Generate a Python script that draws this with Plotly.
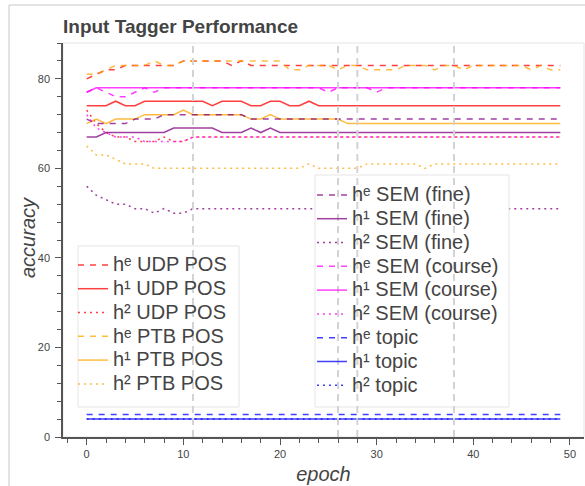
import plotly.graph_objects as go

epochs = list(range(50))

# hᵉ / h¹ / h² series, one list per line
he_udp = [80, 81, 82, 82, 83, 83, 83, 83, 83, 83, 84, 84, 84, 84, 84, 83, 84] + [83] * 33
h1_udp = [74, 74, 74, 75, 74, 74, 75, 75, 75, 75, 75, 75, 75, 74, 75, 75, 75, 74, 74, 75,
          75, 74, 74, 75] + [74] * 26
h2_udp = [73, 70, 68, 67, 67, 66, 66, 66, 67, 66, 66] + [67] * 39

he_ptb = [81, 81, 82, 83, 83, 83, 83, 84, 83, 83, 84, 84, 84, 84, 84, 84, 84, 84, 84, 84,
          84, 82, 82, 83, 83, 83, 82, 83, 83, 82, 82, 82, 82, 83, 83, 83, 82, 83, 83, 82,
          83, 83, 83, 83, 83, 83, 82, 83, 82, 82]
h1_ptb = [70, 71, 70, 71, 71, 71, 72, 72, 72, 72, 73, 72, 72, 72, 72, 72, 72, 71, 71, 72,
          71, 71, 71, 71, 71, 71, 71] + [70] * 23
h2_ptb = [65, 63, 63, 62, 61, 61, 61] + [60] * 16 + [61, 60, 60, 60, 60, 60, 61, 61, 61,
          61, 61, 61, 60] + [61] * 14

he_sem_fine = [71, 70, 70, 70, 70, 71, 71, 71, 72, 72, 72, 72, 72, 72, 72, 72, 72] + [71] * 33
h1_sem_fine = [67, 67, 68, 68, 68, 68, 68, 68, 68, 69, 69, 69, 69, 69, 68, 68, 68, 69, 68,
               69] + [68] * 30
h2_sem_fine = [56, 54, 53, 52, 52, 51, 51, 50, 51, 50, 50] + [51] * 39

he_sem_course = [77, 78, 77, 76, 76, 77, 78, 77, 78, 78, 78, 78, 78, 78, 78, 78, 78, 78, 78,
                 78, 78, 78, 78, 78, 78, 77, 78, 78, 78, 78, 77] + [78] * 19
h1_sem_course = [77] + [78] * 49
h2_sem_course = [72, 69, 68, 67, 67, 67, 66, 66, 66, 66, 66] + [67] * 39

he_topic = [5] * 50
h1_topic = [4] * 50
h2_topic = [4] * 50

series = [
    ("hᵉ UDP POS", he_udp, "red", "dash", "legend"),
    ("h¹ UDP POS", h1_udp, "red", "solid", "legend"),
    ("h² UDP POS", h2_udp, "red", "dot", "legend"),
    ("hᵉ PTB POS", he_ptb, "orange", "dash", "legend"),
    ("h¹ PTB POS", h1_ptb, "orange", "solid", "legend"),
    ("h² PTB POS", h2_ptb, "orange", "dot", "legend"),
    ("hᵉ SEM (fine)", he_sem_fine, "purple", "dash", "legend2"),
    ("h¹ SEM (fine)", h1_sem_fine, "purple", "solid", "legend2"),
    ("h² SEM (fine)", h2_sem_fine, "purple", "dot", "legend2"),
    ("hᵉ SEM (course)", he_sem_course, "magenta", "dash", "legend2"),
    ("h¹ SEM (course)", h1_sem_course, "magenta", "solid", "legend2"),
    ("h² SEM (course)", h2_sem_course, "magenta", "dot", "legend2"),
    ("hᵉ topic", he_topic, "blue", "dash", "legend2"),
    ("h¹ topic", h1_topic, "blue", "solid", "legend2"),
    ("h² topic", h2_topic, "blue", "dot", "legend2"),
]

spans = [11, 26, 28, 38]

DASH = {"dash": "6px,6px", "solid": "solid", "dot": "2px,4px"}
FONT = "Helvetica, 'Liberation Sans', Arial, sans-serif"
TXT = "#444444"

fig = go.Figure()
for name, vals, color, style, leg in series:
    fig.add_trace(go.Scatter(
        x=epochs, y=vals, mode="lines",
        name='<span style="font-size:20px">' + name + "</span>",
        line=dict(color=color, width=1.5, dash=DASH[style]),
        opacity=0.75, legend=leg,
    ))

W, H = 585, 486
L, R, T, B = 63, 1, 43, 49
pw, ph = W - L - R, H - T - B


def px_x(p):
    return (p - L) / pw


def px_y(p):
    return (H - B - p) / ph


shapes = [
    # outer frame
    dict(type="rect", xref="paper", yref="paper", x0=px_x(9), x1=px_x(700),
         y0=px_y(600), y1=px_y(5), line=dict(color="#c8c8c8", width=1), layer="below"),
    # plot outline
    dict(type="rect", xref="paper", yref="paper", x0=0, x1=1, y0=0, y1=1,
         line=dict(color="#e5e5e5", width=1), layer="below"),
    # legend boxes
    dict(type="rect", xref="paper", yref="paper", x0=px_x(78), x1=px_x(239),
         y0=px_y(407), y1=px_y(246), fillcolor="white",
         line=dict(color="#e5e5e5", width=1), layer="above"),
    dict(type="rect", xref="paper", yref="paper", x0=px_x(315), x1=px_x(509),
         y0=px_y(407), y1=px_y(175), fillcolor="white",
         line=dict(color="#e5e5e5", width=1), layer="above"),
]
for s in spans:
    shapes.append(dict(type="line", xref="x", yref="paper", x0=s, x1=s, y0=0, y1=1,
                       line=dict(color="#d3d3d3", width=2, dash="7px,5px"), layer="above"))

axis_common = dict(
    showgrid=False, zeroline=False, showline=True, linecolor="#555555", linewidth=1.5,
    ticks="outside", ticklen=6, tickwidth=1, tickcolor="#555555", automargin=False,
    tickfont=dict(family=FONT, size=11, color=TXT),
)

fig.update_layout(
    width=W, height=H,
    margin=dict(l=L, r=R, t=T, b=B, autoexpand=False),
    paper_bgcolor="white", plot_bgcolor="white",
    font=dict(family=FONT, color=TXT),
    title=dict(text="Input Tagger Performance", x=0, xref="paper", xanchor="left",
               y=(H - 26) / H, yref="container", yanchor="middle", automargin=False,
               font=dict(family=FONT, size=19, color=TXT, weight="bold")),
    xaxis=dict(range=[-2.45, 51.45], tick0=0, dtick=10,
               minor=dict(dtick=2, ticklen=4, ticks="outside", tickcolor="#555555"),
               title=dict(text="epoch", standoff=8,
                          font=dict(family=FONT, size=20, color=TXT, style="italic")),
               **axis_common),
    yaxis=dict(range=[0, 88], tick0=0, dtick=20, ticklabelstandoff=3,
               minor=dict(dtick=4, ticklen=4, ticks="outside", tickcolor="#555555"),
               **axis_common),
    annotations=[dict(text="accuracy", textangle=-90, xref="paper", yref="paper",
                      x=px_x(28), y=px_y(238), xanchor="center", yanchor="middle",
                      showarrow=False,
                      font=dict(family=FONT, size=20, color=TXT, style="italic"))],
    legend=dict(x=px_x(73), y=px_y(248), xanchor="left", yanchor="top",
                bgcolor="rgba(0,0,0,0)", borderwidth=0,
                font=dict(family=FONT, size=16, color=TXT), tracegroupgap=0),
    legend2=dict(x=px_x(312), y=px_y(178), xanchor="left", yanchor="top",
                 bgcolor="rgba(0,0,0,0)", borderwidth=0,
                 font=dict(family=FONT, size=16, color=TXT), tracegroupgap=0),
    shapes=shapes,
    showlegend=True,
)

fig.write_html("out.html", config={"displayModeBar": False},
               post_script="document.body.style.margin='0';")
